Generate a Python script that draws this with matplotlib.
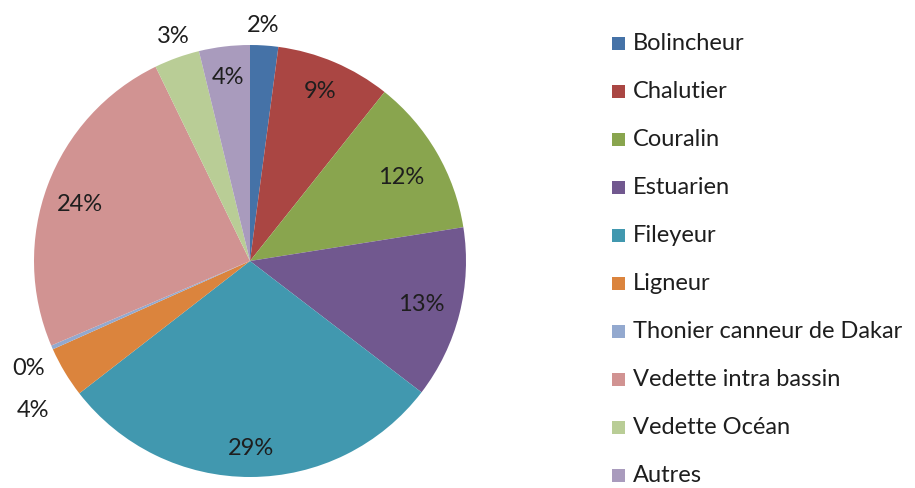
import numpy as np
import matplotlib.pyplot as plt
from matplotlib.patches import Rectangle

plt.rcParams['font.family'] = ['Lato', 'DejaVu Sans']

# data (share of each fleet type, %)
labels = ["Bolincheur", "Chalutier", "Couralin", "Estuarien", "Fileyeur",
          "Ligneur", "Thonier canneur de Dakar", "Vedette intra bassin",
          "Vedette Océan", "Autres"]
values = [2.1, 8.6, 11.8, 12.9, 29.1, 3.8, 0.3, 24.2, 3.4, 3.8]
colors = ["#4572A7", "#AA4643", "#89A54E", "#71588F", "#4198AF",
          "#DB843D", "#93A9CF", "#D19392", "#B9CD96", "#A99BBD"]

# where each percent label sits (fraction of radius) and small angle nudges (deg)
label_r = [1.09, 0.85, 0.80, 0.82, 0.87, 1.22, 1.14, 0.83, 1.10, 0.855]
label_nudge = [0.5, 0.5, -1.2, 0, 0, 3.5, 2.3, 2, -1, 0]

W, H = 915, 488
fig = plt.figure(figsize=(W / 100, H / 100), dpi=100)
cx, cy, R = 250, 261, 216
ax = fig.add_axes([(cx - R) / W, (H - cy - R) / H, 2 * R / W, 2 * R / H])

wedges, _ = ax.pie(values, colors=colors, startangle=90, counterclock=False,
                   radius=1, wedgeprops=dict(linewidth=0))
ax.set_xlim(-1, 1)
ax.set_ylim(-1, 1)
ax.axis("off")

total = sum(values)
for w, v, r, dn in zip(wedges, values, label_r, label_nudge):
    mid = np.deg2rad((w.theta1 + w.theta2) / 2 + dn)
    ax.text(r * np.cos(mid), r * np.sin(mid), f"{round(v / total * 100)}%",
            ha="center", va="center", fontsize=17, color="#1e1e1e")

# legend drawn by hand, one row per category
x_box, y_first, step, box = 612, 43, 48.1, 13
for i, (lab, col) in enumerate(zip(labels, colors)):
    y = y_first + i * step
    fig.patches.append(Rectangle((x_box / W, (H - y - box / 2) / H), box / W, box / H,
                                 transform=fig.transFigure, facecolor=col,
                                 edgecolor="none"))
    fig.text(633 / W, (H - y) / H, lab, ha="left", va="center",
             fontsize=17, color="#1e1e1e")

fig.savefig("out.png", dpi=100)
